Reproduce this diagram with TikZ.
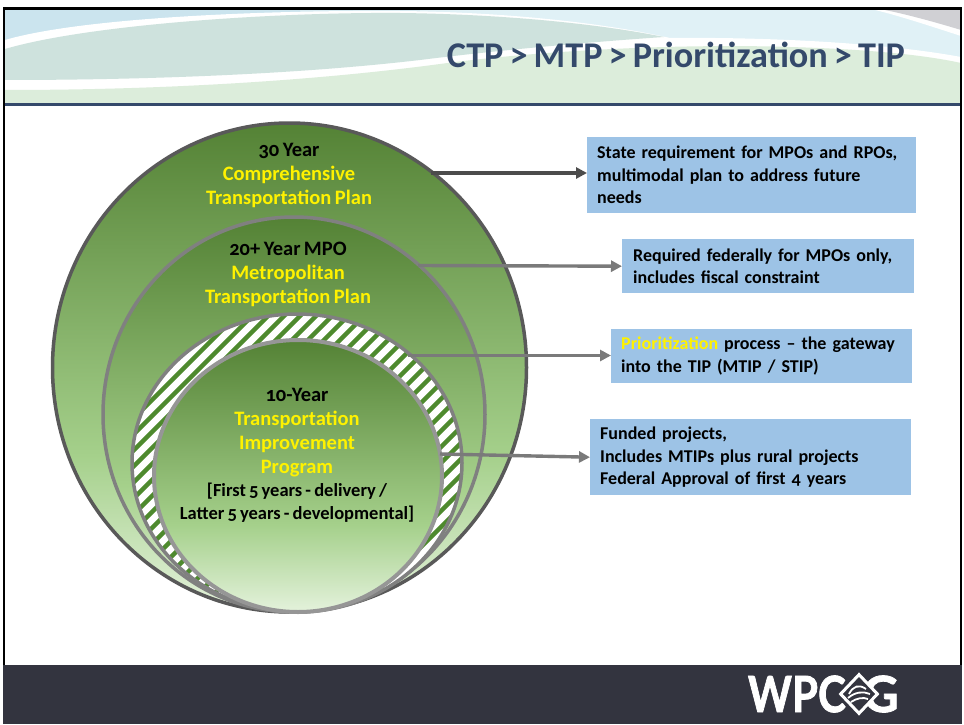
\documentclass[tikz,border=0pt]{standalone}
\usepackage{fontspec}
\setmainfont[Numbers=OldStyle,WordSpace=0.75]{Carlito}
\newfontfamily\logofont[BoldFeatures={FakeBold=1.6}]{Lato}
\usetikzlibrary{shapes.geometric,arrows.meta}
\definecolor{gl}{HTML}{E4F2DC}
\definecolor{gm}{HTML}{A5D08B}
\definecolor{gd}{HTML}{548235}
\definecolor{hatchg}{HTML}{4E8A2E}
\definecolor{boxb}{HTML}{9DC3E6}
\definecolor{navy}{HTML}{34496B}
\definecolor{band}{HTML}{33343F}
\pgfdeclareverticalshading{greens}{100bp}{color(0bp)=(gl); color(25bp)=(gl); color(41bp)=(gm); color(75bp)=(gd); color(100bp)=(gd)}
\tikzset{
  x=1pt,y=-1pt,
  ring/.style={ellipse,inner sep=0pt,outer sep=0pt,shading=greens},
  infobox/.style={fill=boxb,inner sep=0pt,anchor=north west,align=left,font=\fontsize{18}{22.5}\selectfont\bfseries},
  ringtext/.style={align=center,inner sep=0pt,font=\fontsize{20.5}{24}\selectfont\bfseries},
  conn/.style={-{Triangle[length=11pt,width=11pt]},line width=3.4pt},
  logotext/.style={inner sep=0pt,anchor=east,text=white,font=\fontsize{50}{50}\logofont\bfseries},
}
\begin{document}
\begin{tikzpicture}
\useasboundingbox (0,0) rectangle (964,725);
\fill[white] (0,0) rectangle (964,725);
% header
\fill[color={rgb,255:red,224;green,241;blue,246}] (5,10) rectangle (961,103);
\fill[color={rgb,255:red,203;green,228;blue,238}] (5,10) rectangle (300,45);
\fill[color={rgb,255:red,214;green,234;blue,241}] (300,10) rectangle (420,30);
\fill[white] (875,10) -- (961,10) -- (961,36) .. controls (930,26) and (900,16) .. (875,10) -- cycle;
\fill[color={rgb,255:red,208;green,208;blue,212}] (885,10) -- (961,10) -- (961,30) .. controls (935,22) and (905,14) .. (885,10) -- cycle;
\fill[white] (5,40) .. controls (80,18) and (260,10) .. (400,11) .. controls (500,12) and (600,22) .. (670,38) .. controls (760,37) and (880,42) .. (961,57) -- (961,103) -- (5,103) -- cycle;
\fill[color={rgb,255:red,206;green,226;blue,221}] (5,49) .. controls (90,24) and (280,12) .. (400,13) .. controls (490,14) and (590,22) .. (664,37) .. controls (590,42) and (500,50) .. (420,60) .. controls (300,74) and (150,80) .. (5,80) -- cycle;
\fill[color={rgb,255:red,220;green,237;blue,219}] (5,90) .. controls (170,90) and (320,80) .. (440,64) .. controls (560,48) and (700,44) .. (790,47) .. controls (860,49) and (920,54) .. (961,63) -- (961,103) -- (5,103) -- cycle;
\fill[navy] (5,103) rectangle (961,106);
\node[inner sep=0pt,text=navy,font=\fontsize{36.2}{40}\selectfont\bfseries] (title) at (676,55) {CTP > MTP > Prioritization > TIP};
% frame
\draw[black,line width=2.2pt] (4,665) -- (4,8.5) -- (961,8.5) -- (961,665);
% footer
\fill[band] (3,665) rectangle (961.5,724);
% rings
\node[ring,draw=black!65,line width=3.5pt,minimum width=474pt,minimum height=489pt] (outer) at (289.5,367.5) {};
\node[ring,draw=black!50,line width=3.5pt,minimum width=382pt,minimum height=395pt] (middle) at (294,414.5) {};
\node[ellipse,inner sep=0pt,outer sep=0pt,fill=white,minimum width=330pt,minimum height=298pt] (hatch) at (297,463) {};
\begin{scope}
\clip (297,463) ellipse [x radius=165,y radius=149];
\foreach \s in {-200,-184,...,520}
  \draw[hatchg,line width=4.4pt] (\s,640) -- (\s+350,290);
\end{scope}
\node[ellipse,inner sep=0pt,outer sep=0pt,draw=black!50,line width=3.5pt,minimum width=330pt,minimum height=298pt] (hatchline) at (297,463) {};
\node[ring,draw=black!41,line width=4pt,minimum width=288pt,minimum height=272pt] (inner) at (298,476) {};
% ring labels
\node[ringtext] (t1) at (289,175.5) {30 Year\\\textcolor{yellow}{Comprehensive}\\\textcolor{yellow}{Transportation Plan}};
\node[ringtext] (t2) at (288,274.5) {20+ Year MPO\\\textcolor{yellow}{Metropolitan}\\\textcolor{yellow}{Transportation Plan}};
\node[ringtext] (t3) at (297,432.5) {10-Year\\\textcolor{yellow}{Transportation}\\\textcolor{yellow}{Improvement}\\\textcolor{yellow}{Program}};
\node[ringtext,font=\fontsize{18.5}{23}\selectfont\bfseries] (t4) at (297,502.5) {[First 5 years - delivery /\\Latter 5 years - developmental]};
% boxes
\node[infobox,minimum width=329pt,minimum height=76pt,text width=309pt,inner xsep=10pt] (b1) at (587,137) {State requirement for MPOs and RPOs,\\multimodal plan to address future\\needs};
\node[infobox,minimum width=290pt,minimum height=54pt,text width=270pt,inner xsep=11pt] (b2) at (622,239) {Required federally for MPOs only,\\includes fiscal constraint};
\node[infobox,minimum width=301pt,minimum height=54pt,text width=281pt,inner xsep=10pt] (b3) at (611,329) {\textcolor{yellow}{Prioritization} process -- the gateway\\into the TIP (MTIP / STIP)};
\node[infobox,minimum width=321pt,minimum height=76pt,text width=301pt,inner xsep=10pt] (b4) at (590,419) {Funded projects,\\Includes MTIPs plus rural projects\\Federal Approval of first 4 years};
% connectors
\coordinate (s1) at (431,173);
\coordinate (s2) at (418,265.5);
\coordinate (s3) at (408,355.5);
\coordinate (s4) at (440,454);
\draw[conn,color=black!70] (s1) -- (b1.west |- s1);
\draw[conn,color=black!52] (s2) -- (b2.west);
\draw[conn,color=black!52] (s3) -- (b3.west |- s3);
\draw[conn,color=black!52] (s4) -- (b4.west);
% logo
\node[logotext] (wpc) at (846,694) {\scalebox{0.84}[1]{WPC}};
\node[logotext] (g) at (899,694) {G};
\node[diamond,fill=band,draw=white,line width=3pt,inner sep=0pt,minimum width=38pt,minimum height=40pt] (dia) at (859,694) {};
\draw[white,line width=1.8pt] (849,694) .. controls (853,686) and (859,684) .. (866,689);
\draw[white,line width=1.8pt] (848,698) .. controls (855,692) and (863,691) .. (870,694);
\draw[white,line width=1.8pt] (851,702) .. controls (857,698) and (863,697) .. (868,699);
\end{tikzpicture}
\end{document}
